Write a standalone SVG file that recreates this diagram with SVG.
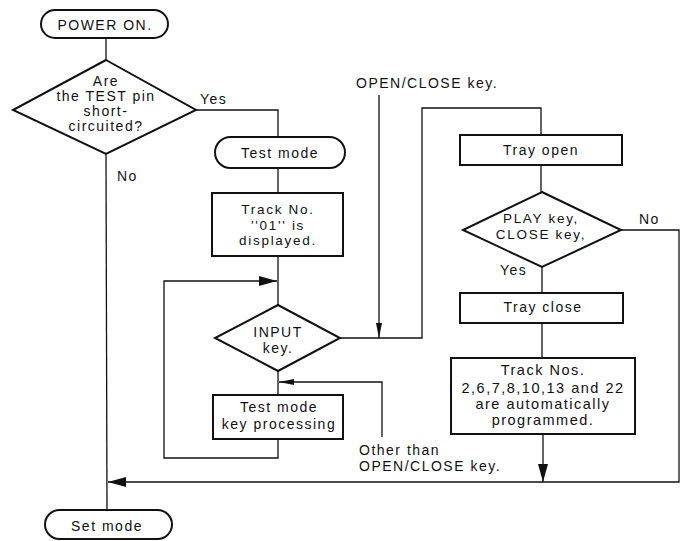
<svg xmlns="http://www.w3.org/2000/svg" width="683" height="541" viewBox="0 0 683 541">
<defs>
<style>
text{font-family:"Liberation Sans",Arial,sans-serif;font-size:14px;letter-spacing:1.5px;fill:#111;text-anchor:middle}
.l{text-anchor:start}
.big{font-size:14.5px}
.sm{font-size:13.5px;letter-spacing:1.7px}
.shape{fill:#fff;stroke:#111;stroke-width:2}
.conn{fill:none;stroke:#111;stroke-width:1.3}
</style>
<marker id="arr" markerUnits="userSpaceOnUse" markerWidth="18" markerHeight="10" refX="18" refY="5" orient="auto">
<path d="M0,0 L18,5 L0,10 Z" fill="#111"/>
</marker>
<marker id="arrs" markerUnits="userSpaceOnUse" markerWidth="15" markerHeight="6" refX="15" refY="3" orient="auto">
<path d="M0,0 L15,3 L0,6 Z" fill="#111"/>
</marker>
</defs>
<rect width="683" height="541" fill="#fff"/>
<g id="connectors">
<path class="conn" d="M106,38 V60"/>
<path class="conn" d="M196,110 H278 V137"/>
<path class="conn" d="M278,168 V193"/>
<path class="conn" d="M278,256 V305"/>
<path class="conn" d="M278,371 V395"/>
<path class="conn" d="M278,439 V458 H164 V281 H277" marker-end="url(#arr)"/>
<path class="conn" d="M340,338 H422 V108 H541 V135"/>
<path class="conn" d="M541,165 V192"/>
<path class="conn" d="M542,267 V293"/>
<path class="conn" d="M542,323 V358"/>
<path class="conn" d="M543,434 V482" marker-end="url(#arr)"/>
<path class="conn" d="M621,230 H679 V482 H108" marker-end="url(#arr)"/>
<path class="conn" d="M106,154 L107,510"/>
<path class="conn" d="M379,95 V338" marker-end="url(#arrs)"/>
<path class="conn" d="M382,437 V382 H279" marker-end="url(#arrs)"/>
</g>
<g id="power-on">
<rect class="shape" x="41" y="10" width="127" height="28" rx="14"/>
<text x="105" y="30">POWER ON.</text>
</g>
<g id="test-pin">
<path class="shape" d="M106,60 L196,110 L106,154 L13,110 Z"/>
<text x="106" y="86">Are</text>
<text x="106" y="101">the TEST pin</text>
<text x="106" y="116">short-</text>
<text x="106" y="131">circuited?</text>
<text class="l" x="200" y="104">Yes</text>
<text class="l" x="117" y="181">No</text>
</g>
<g id="test-mode">
<rect class="shape" x="215" y="137" width="130" height="31" rx="15.5"/>
<text x="280" y="158">Test mode</text>
</g>
<g id="track-01">
<rect class="shape" x="212" y="193" width="131" height="63"/>
<text class="sm" x="278" y="214">Track No.</text>
<text class="sm" x="278" y="230">''01'' is</text>
<text class="sm" x="278" y="245">displayed.</text>
</g>
<g id="input-key">
<path class="shape" d="M278,305 L340,338 L278,371 L215,338 Z"/>
<text x="278" y="337">INPUT</text>
<text x="278" y="353">key.</text>
</g>
<g id="test-key-proc">
<rect class="shape" x="213" y="395" width="130" height="44"/>
<text x="279" y="412">Test mode</text>
<text x="279" y="429">key processing</text>
</g>
<g id="label-open-close">
<text class="l" x="356" y="88">OPEN/CLOSE key.</text>
</g>
<g id="label-other">
<text class="l" x="359" y="455">Other than</text>
<text class="l" x="359" y="471">OPEN/CLOSE key.</text>
</g>
<g id="tray-open">
<rect class="shape" x="460" y="135" width="162" height="30"/>
<text x="541" y="155">Tray open</text>
</g>
<g id="play-close">
<path class="shape" d="M542,192 L621,230 L542,267 L463,230 Z"/>
<text class="sm" x="541" y="223">PLAY key,</text>
<text class="sm" x="541" y="239">CLOSE key,</text>
<text class="l" x="639" y="224">No</text>
<text class="l" x="500" y="275">Yes</text>
</g>
<g id="tray-close">
<rect class="shape" x="460" y="293" width="163" height="30"/>
<text x="543" y="312">Tray close</text>
</g>
<g id="track-nos">
<rect class="shape" x="451" y="358" width="184" height="76"/>
<text class="big" x="543" y="375">Track Nos.</text>
<text class="big" x="543" y="393">2,6,7,8,10,13 and 22</text>
<text class="big" x="543" y="409">are automatically</text>
<text class="big" x="543" y="425">programmed.</text>
</g>
<g id="set-mode">
<rect class="shape" x="45" y="510" width="127" height="29" rx="14.5"/>
<text x="107" y="531">Set mode</text>
</g>
</svg>
